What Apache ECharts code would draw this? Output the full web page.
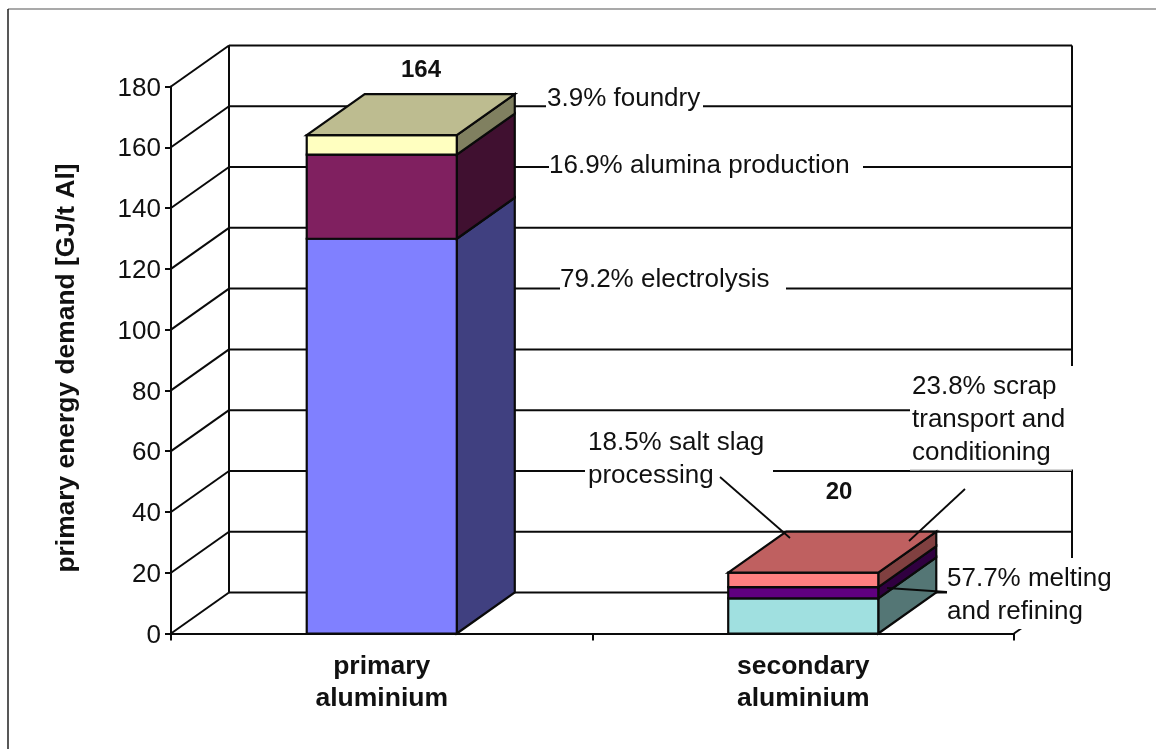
<!DOCTYPE html>
<html>
<head>
<meta charset="utf-8">
<title>Primary energy demand of aluminium</title>
<style>html,body{margin:0;padding:0;background:#fff}#chart{width:1156px;height:749px}</style>
<script src="https://cdn.jsdelivr.net/npm/echarts@6/dist/echarts.min.js"></script>
</head>
<body>
<div id="chart"></div>
<script>
// Energy demand per stacked segment, GJ per tonne of aluminium
const categories = ['primary\naluminium', 'secondary\naluminium'];
const lowerSegment = [129.9, 11.54];   // electrolysis / melting and refining
const middleSegment = [27.7, 3.7];     // alumina production / salt slag processing
const upperSegment = [6.4, 4.76];      // foundry / scrap transport and conditioning
const totals = [164, 20];
const yTicks = [0, 20, 40, 60, 80, 100, 120, 140, 160, 180];

// Face colours for each stack level, one entry per category
const lowerFront = ['#8080FF', '#A0E0E0'], lowerSide = ['#404080', '#547675'];
const middleFront = ['#802060', '#600080'], middleSide = ['#401030', '#300040'];
const upperFront = ['#FFFFC0', '#FF8080'], upperSide = ['#808060', '#804040'];
const upperTop = ['#BDBC90', '#BF6060'];

// Oblique projection of the chart box
const DEPTH_X = 58, DEPTH_Y = 41, BAR_RATIO = 0.356;
const INK = '#0a0a0a';
const FONT = '"Liberation Sans", Arial, sans-serif';
const lineStyle = { stroke: INK, lineWidth: 2, fill: null };

function poly(points, fill) {
  return { type: 'polygon', shape: { points },
    style: { fill, stroke: INK, lineWidth: 2.2, lineJoin: 'miter' } };
}
function seg(a, b, style) {
  return { type: 'line', shape: { x1: a[0], y1: a[1], x2: b[0], y2: b[1] }, style: style || lineStyle };
}

// Draws one stacked block: front and side faces, plus the lid on the last level
function blockRenderer(front, side, top) {
  return function (params, api) {
    const i = api.value(0);
    const centre = api.coord([i, 0])[0];
    const half = api.size([1, 0])[0] * BAR_RATIO / 2;
    const y0 = api.coord([i, api.value(1)])[1];
    const y1 = api.coord([i, api.value(2)])[1];
    const l = centre - half, r = centre + half;
    const children = [
      poly([[r, y0], [r + DEPTH_X, y0 - DEPTH_Y], [r + DEPTH_X, y1 - DEPTH_Y], [r, y1]], side[i]),
      poly([[l, y0], [r, y0], [r, y1], [l, y1]], front[i])
    ];
    if (top) {
      children.push(poly([[l, y1], [r, y1], [r + DEPTH_X, y1 - DEPTH_Y], [l + DEPTH_X, y1 - DEPTH_Y]], top[i]));
    }
    return { type: 'group', children };
  };
}

function stackedData(base, values) {
  return values.map((v, i) => [i, base[i], base[i] + v]);
}
const zeros = categories.map(() => 0);
const lowerTop = lowerSegment.map((v, i) => zeros[i] + v);
const middleTop = middleSegment.map((v, i) => lowerTop[i] + v);

// Side wall and back wall rules at each tick
function wallRenderer(params, api) {
  const v = api.value(0);
  const box = params.coordSys;
  const y = api.coord([0, v])[1];
  const left = box.x, right = box.x + box.width;
  const children = [
    seg([left, y], [left + DEPTH_X, y - DEPTH_Y]),
    seg([left + DEPTH_X, y - DEPTH_Y], [right + DEPTH_X, y - DEPTH_Y])
  ];
  if (v === yTicks[yTicks.length - 1]) {
    const bottom = api.coord([0, 0])[1];
    children.push(seg([left + DEPTH_X, y - DEPTH_Y], [left + DEPTH_X, bottom - DEPTH_Y]));
    children.push(seg([right + DEPTH_X, y - DEPTH_Y], [right + DEPTH_X, bottom - DEPTH_Y]));
    children.push(seg([right, bottom], [right + DEPTH_X, bottom - DEPTH_Y]));
  }
  return { type: 'group', children };
}

// Callouts: each one masks the rules behind it with a white box
function callout(text, x, y, box) {
  return [
    { type: 'rect', z: 50, shape: { x: box[0], y: box[1], width: box[2], height: box[3] },
      style: { fill: '#fff' } },
    { type: 'text', z: 51, x, y,
      style: { text, font: '26px ' + FONT, fill: '#111', lineHeight: 33, verticalAlign: 'top' } }
  ];
}
function leader(a, b) {
  return { type: 'line', z: 52, shape: { x1: a[0], y1: a[1], x2: b[0], y2: b[1] },
    style: { stroke: INK, lineWidth: 1.8 } };
}
function totalLabel(value, x, y) {
  return { type: 'text', z: 51, x, y,
    style: { text: String(value), font: 'bold 24px ' + FONT, fill: '#111', align: 'center', verticalAlign: 'middle' } };
}

const graphics = [
  { type: 'line', z: 60, shape: { x1: 8, y1: 9, x2: 1156, y2: 9 }, style: { stroke: '#555', lineWidth: 1.2 } },
  { type: 'line', z: 60, shape: { x1: 8, y1: 9, x2: 8, y2: 749 }, style: { stroke: '#111', lineWidth: 1.4 } },
  ...callout('3.9% foundry', 547, 82, [546, 82, 157, 28]),
  ...callout('16.9% alumina production', 549, 149, [549, 148, 314, 24]),
  ...callout('79.2% electrolysis', 560, 263, [560, 262, 226, 30]),
  ...callout('18.5% salt slag\nprocessing', 588, 426.5, [585, 424, 188, 64]),
  { type: 'rect', z: 50, shape: { x: 910, y: 366, width: 166, height: 103.5 }, style: { fill: '#fff' } },
  { type: 'line', z: 50, shape: { x1: 910, y1: 470, x2: 1072, y2: 470 }, style: { stroke: '#c8c8c8', lineWidth: 1.6 } },
  ...callout('23.8% scrap\ntransport and\nconditioning', 912, 370, [0, 0, 0, 0]),
  ...callout('57.7% melting\nand refining', 947, 562, [947, 558, 170, 71]),
  leader([720, 477], [790, 538]),
  leader([965, 489], [909, 541]),
  leader([947, 592], [887, 588]),
  totalLabel(totals[0], 421, 70),
  totalLabel(totals[1], 839, 492)
];

const chart = echarts.init(document.getElementById('chart'), null, { renderer: 'canvas' });
chart.setOption({
  animation: false,
  backgroundColor: '#fff',
  grid: { left: 171, right: 142, top: 86.5, bottom: 115.5 },
  xAxis: {
    type: 'category',
    data: categories,
    axisLine: { onZero: false, lineStyle: { color: INK, width: 2.2 } },
    axisTick: { show: true, alignWithLabel: false, length: 7, lineStyle: { color: INK, width: 2 } },
    axisLabel: { color: '#111', fontFamily: FONT, fontWeight: 'bold', fontSize: 26.5, lineHeight: 32, margin: 17, interval: 0 }
  },
  yAxis: {
    type: 'value',
    min: 0,
    max: 180,
    interval: 20,
    name: 'primary energy demand [GJ/t Al]',
    nameLocation: 'middle',
    nameGap: 91,
    nameTextStyle: { color: '#111', fontFamily: FONT, fontWeight: 'bold', fontSize: 26.4, padding: [0, 16, 0, 0] },
    axisLine: { show: true, lineStyle: { color: INK, width: 2 } },
    axisTick: { show: true, length: 6, lineStyle: { color: INK, width: 2 } },
    axisLabel: { color: '#111', fontFamily: FONT, fontSize: 26, margin: 10, verticalAlign: 'top', lineHeight: 4 },
    splitLine: { show: false }
  },
  series: [
    { type: 'custom', name: 'walls', z: 1, silent: true, coordinateSystem: 'cartesian2d',
      data: yTicks.map(v => [v]), encode: { y: 0 }, renderItem: wallRenderer },
    { type: 'custom', name: 'lower segment', z: 3, silent: true,
      data: stackedData(zeros, lowerSegment), encode: { x: 0, y: 2 },
      renderItem: blockRenderer(lowerFront, lowerSide) },
    { type: 'custom', name: 'middle segment', z: 3, silent: true,
      data: stackedData(lowerTop, middleSegment), encode: { x: 0, y: 2 },
      renderItem: blockRenderer(middleFront, middleSide) },
    { type: 'custom', name: 'upper segment', z: 3, silent: true,
      data: stackedData(middleTop, upperSegment), encode: { x: 0, y: 2 },
      renderItem: blockRenderer(upperFront, upperSide, upperTop) }
  ],
  graphic: { elements: graphics }
});
</script>
</body>
</html>
